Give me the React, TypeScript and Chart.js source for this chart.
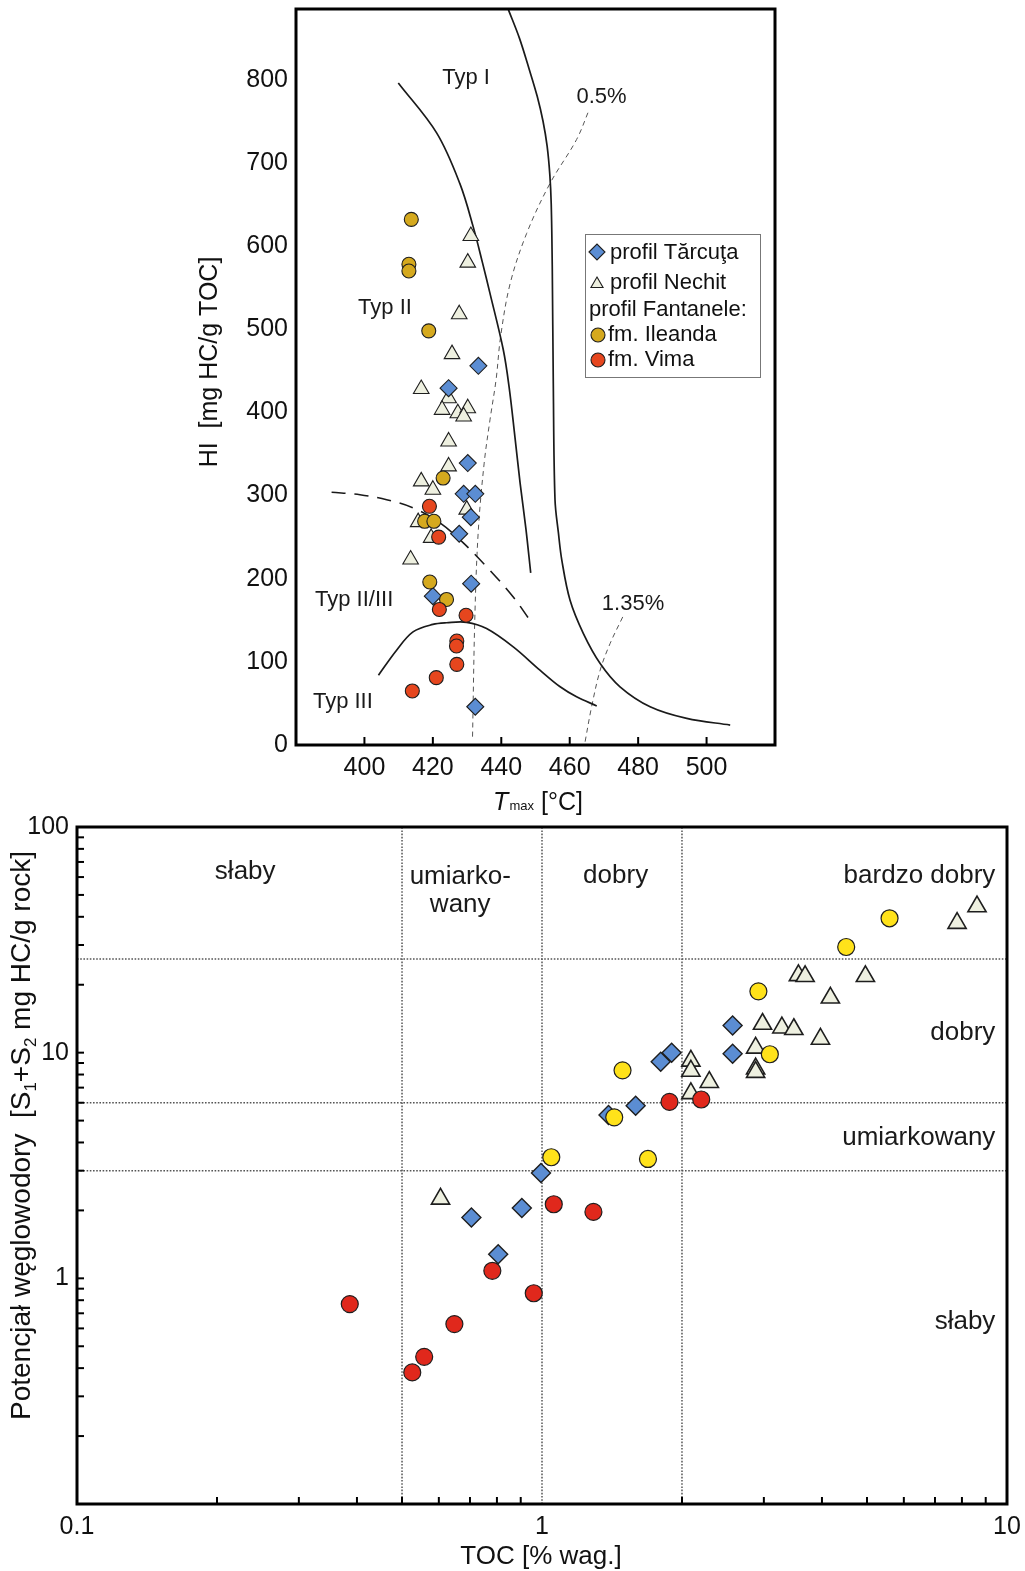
import React, { useEffect, useRef } from 'react';
import { Chart, registerables } from 'chart.js';

Chart.register(...registerables);

const FONT = '"Liberation Sans", Arial, Helvetica, sans-serif';

// ================= TOP PANEL: HI vs Tmax =================
const TOP_X_TICKS = [400, 420, 440, 460, 480, 500];
const TOP_Y_TICKS = [0, 100, 200, 300, 400, 500, 600, 700, 800];

const TARCUTA_TMAX = [433.3, 424.6, 430.2, 429.0, 432.4, 431.1, 427.7, 431.2, 420.0, 432.4];
const TARCUTA_HI = [456, 429, 339, 302, 302, 274, 254, 194, 179, 46];

const NECHIT_TMAX = [431.1, 430.2, 427.7, 425.6, 416.6, 424.6, 422.7, 427.3, 430.2, 429.0, 424.6, 424.6, 416.6, 420.0, 429.9, 415.7, 419.5, 413.5];
const NECHIT_HI = [612, 580, 518, 470, 428, 417, 403, 399, 405, 395, 365, 335, 317, 307, 283, 268, 249, 223];

const ILEANDA_TMAX = [413.7, 413.0, 413.0, 418.8, 423.0, 417.6, 420.3, 419.1, 424.0];
const ILEANDA_HI = [632, 578, 570, 498, 321, 269, 269, 196, 175];

const VIMA_TMAX = [419.0, 421.7, 421.9, 429.7, 427.0, 426.9, 427.0, 421.0, 414.0];
const VIMA_HI = [287, 250, 163, 156, 125, 119, 97, 81, 65];

// kerogen type boundary curves [Tmax, HI]
const CURVE_TYPE_I_II = [[409.9, 796], [421.1, 736], [427.9, 675], [431.8, 623], [434.5, 580], [436.7, 543], [440.6, 475], [442.3, 430], [444, 370], [445.5, 315], [447.2, 260], [448.6, 207]];
const CURVE_TYPE_I = [[442.1, 884], [445.3, 850], [448.2, 812], [450.5, 780], [452.2, 750], [453.4, 720], [454.2, 685], [454.6, 650], [454.9, 575], [455.2, 435], [455.7, 295], [456.7, 255], [457.7, 222], [460.1, 174], [464, 134], [468.9, 98], [474.7, 70], [483.5, 46], [494.2, 32], [506.9, 24]];
const CURVE_TYPE_III = [[404.1, 84], [409.4, 114], [414.2, 136], [420, 145], [424, 147], [429.9, 147.5], [435.7, 140], [443.5, 118], [451.3, 90], [457.2, 70], [462, 58], [467.9, 47]];
const CURVE_TYPE_II_III = [[390.4, 304], [398.7, 301], [406.5, 295], [414.3, 285], [422.1, 267], [428.9, 243], [436.7, 210], [443.5, 178], [448.2, 151]];
const CURVE_RO_05 = [[431.6, 10], [432.3, 158], [433.3, 259], [435, 339], [436.7, 391], [438.5, 440], [439.8, 491], [442.6, 555], [447.4, 615], [454.2, 675], [462, 728], [465.7, 764]];
const CURVE_RO_135 = [[464.5, 4], [466.4, 46], [468.9, 90], [471.8, 122], [475.5, 154]];

// ================= BOTTOM PANEL: S1+S2 vs TOC =================
const BOT_X_LABELS = [0.1, 1, 10];
const BOT_Y_LABELS = [1, 10, 100];
const BOT_X_MINOR = [0.2, 0.3, 0.4, 0.5, 0.6, 0.7, 0.8, 0.9, 2, 3, 4, 5, 6, 7, 8, 9];
const BOT_Y_MINOR = [0.2, 0.3, 0.4, 0.5, 0.6, 0.7, 0.8, 0.9, 1, 2, 3, 4, 5, 6, 7, 8, 9, 10, 20, 30, 40, 50, 60, 70, 80, 90];
const TOC_CLASS_LIMITS = [0.5, 1, 2];
const S12_CLASS_LIMITS = [3, 6, 26];

const B_TARCUTA_TOC = [2.57, 2.57, 1.9, 1.8, 1.59, 1.39, 0.995, 0.905, 0.705, 0.805];
const B_TARCUTA_S = [13.2, 9.9, 10.0, 9.12, 5.82, 5.29, 2.93, 2.05, 1.86, 1.28];

const B_NECHIT_TOC = [8.62, 7.81, 3.56, 3.68, 4.96, 4.17, 2.98, 3.28, 3.48, 3.97, 2.88, 2.88, 2.88, 2.09, 2.09, 2.29, 2.09, 0.605];
const B_NECHIT_S = [44.4, 37.5, 22.0, 21.8, 21.8, 17.5, 13.4, 12.9, 12.7, 11.5, 10.5, 8.5, 8.2, 9.2, 8.3, 7.4, 6.6, 2.25];

const B_ILEANDA_TOC = [5.59, 4.51, 2.92, 3.09, 1.49, 1.43, 1.047, 1.69];
const B_ILEANDA_S = [39.4, 29.4, 18.7, 9.84, 8.35, 5.17, 3.44, 3.38];

const B_VIMA_TOC = [1.88, 2.2, 1.06, 1.29, 0.782, 0.96, 0.386, 0.648, 0.558, 0.526];
const B_VIMA_S = [6.05, 6.2, 2.13, 1.97, 1.08, 0.859, 0.769, 0.627, 0.449, 0.383];

// colours
const BLUE = '#5B8DD3';
const PALE = '#EEF0E0';
const GOLD = '#D5A91E';
const TOP_RED = '#E6461E';
const YELLOW = '#FFE21A';
const RED = '#E0281C';
const EDGE = '#1e1e1e';

const pts = (xs: number[], ys: number[]) => xs.map((x, i) => ({ x, y: ys[i] }));
const curve = (pairs: number[][]) => pairs.map(([x, y]) => ({ x, y }));

type Seg = { t: string; sub?: boolean; italic?: boolean; size?: number };
function drawRich(ctx: CanvasRenderingContext2D, segs: Seg[], size: number, x: number, y: number, align: 'left' | 'center') {
  const fontFor = (s: Seg) => `${s.italic ? 'italic ' : ''}${s.size ?? (s.sub ? Math.round(size * 0.6) : size)}px ${FONT}`;
  let total = 0;
  const widths = segs.map((s) => {
    ctx.font = fontFor(s);
    const w = ctx.measureText(s.t).width;
    total += w;
    return w;
  });
  let cx = align === 'center' ? x - total / 2 : x;
  ctx.textAlign = 'left';
  ctx.textBaseline = 'alphabetic';
  segs.forEach((s, i) => {
    ctx.font = fontFor(s);
    ctx.fillText(s.t, cx, y + (s.sub ? size * 0.22 : 0));
    cx += widths[i];
  });
}

function marker(ctx: CanvasRenderingContext2D, style: string, x: number, y: number, r: number, fill: string) {
  ctx.beginPath();
  if (style === 'circle') ctx.arc(x, y, r, 0, Math.PI * 2);
  else if (style === 'diamond') {
    ctx.moveTo(x - r, y); ctx.lineTo(x, y - r); ctx.lineTo(x + r, y); ctx.lineTo(x, y + r); ctx.closePath();
  } else {
    ctx.moveTo(x, y - r); ctx.lineTo(x + r * 0.866, y + r * 0.5); ctx.lineTo(x - r * 0.866, y + r * 0.5); ctx.closePath();
  }
  ctx.fillStyle = fill;
  ctx.fill();
  ctx.lineWidth = 1.1;
  ctx.strokeStyle = EDGE;
  ctx.stroke();
}

const TOP_REGION_LABELS = [
  { text: 'Typ I', t: 429.7, hi: 802 },
  { text: '0.5%', t: 469.3, hi: 779 },
  { text: 'Typ II', t: 406, hi: 525 },
  { text: 'Typ II/III', t: 397, hi: 174 },
  { text: 'Typ III', t: 393.7, hi: 52 },
  { text: '1.35%', t: 478.5, hi: 170 },
];

const topDecor = {
  id: 'topDecor',
  afterDatasetsDraw(chart: any) {
    const { ctx, chartArea: a, scales } = chart;
    const x = scales.x, y = scales.y;
    ctx.save();
    ctx.strokeStyle = '#000';
    ctx.lineWidth = 2;
    TOP_X_TICKS.forEach((v) => {
      const px = x.getPixelForValue(v);
      ctx.beginPath(); ctx.moveTo(px, a.bottom); ctx.lineTo(px, a.bottom - 8); ctx.stroke();
    });
    ctx.lineWidth = 3;
    ctx.strokeRect(a.left, a.top, a.right - a.left, a.bottom - a.top);

    ctx.fillStyle = '#1a1a1a';
    ctx.font = `22px ${FONT}`;
    ctx.textAlign = 'center';
    ctx.textBaseline = 'middle';
    TOP_REGION_LABELS.forEach((l) => ctx.fillText(l.text, x.getPixelForValue(l.t), y.getPixelForValue(l.hi)));

    // legend
    ctx.lineWidth = 1;
    ctx.strokeStyle = '#777';
    ctx.fillStyle = '#fff';
    ctx.fillRect(585, 234, 175, 143);
    ctx.strokeRect(585.5, 234.5, 175, 143);
    marker(ctx, 'diamond', 597, 252, 8, BLUE);
    marker(ctx, 'triangle', 597, 284, 7, PALE);
    marker(ctx, 'circle', 598, 335, 7, GOLD);
    marker(ctx, 'circle', 598, 360, 7, TOP_RED);
    ctx.fillStyle = '#111';
    ctx.font = `22px ${FONT}`;
    ctx.textAlign = 'left';
    ctx.textBaseline = 'middle';
    ctx.fillText('profil Tărcuţa', 610, 253);
    ctx.fillText('profil Nechit', 610, 283);
    ctx.fillText('profil Fantanele:', 589, 310);
    ctx.fillText('fm. Ileanda', 608, 335);
    ctx.fillText('fm. Vima', 608, 360);

    // axis titles
    ctx.fillStyle = '#111';
    ctx.save();
    ctx.translate(217, 362);
    ctx.rotate(-Math.PI / 2);
    drawRich(ctx, [{ t: 'HI  [mg HC/g TOC]' }], 25, 0, 0, 'center');
    ctx.restore();
    drawRich(ctx, [{ t: 'T', italic: true }, { t: ' ', size: 4 }, { t: 'max', size: 13 }, { t: ' [°C]' }], 25, 538, 810, 'center');
    ctx.restore();
  },
};

const BOT_ZONE_LABELS = [
  { text: 'słaby', x: 0.23, y: 63, align: 'center' },
  { text: 'umiarko-', x: 0.667, y: 60, align: 'center' },
  { text: 'wany', x: 0.667, y: 45, align: 'center' },
  { text: 'dobry', x: 1.44, y: 61, align: 'center' },
  { text: 'bardzo dobry', x: 9.44, y: 61, align: 'right' },
  { text: 'dobry', x: 9.44, y: 12.2, align: 'right' },
  { text: 'umiarkowany', x: 9.44, y: 4.19, align: 'right' },
  { text: 'słaby', x: 9.44, y: 0.64, align: 'right' },
];

const botDecor = {
  id: 'botDecor',
  afterDatasetsDraw(chart: any) {
    const { ctx, chartArea: a, scales } = chart;
    const x = scales.x, y = scales.y;
    ctx.save();
    ctx.strokeStyle = '#000';
    ctx.lineWidth = 2;
    BOT_X_MINOR.forEach((v) => {
      const px = x.getPixelForValue(v);
      ctx.beginPath(); ctx.moveTo(px, a.bottom); ctx.lineTo(px, a.bottom - 7); ctx.stroke();
    });
    BOT_Y_MINOR.forEach((v) => {
      const py = y.getPixelForValue(v);
      ctx.beginPath(); ctx.moveTo(a.left, py); ctx.lineTo(a.left + 7, py); ctx.stroke();
    });
    ctx.lineWidth = 3;
    ctx.strokeRect(a.left, a.top, a.right - a.left, a.bottom - a.top);

    ctx.fillStyle = '#1a1a1a';
    ctx.font = `26px ${FONT}`;
    ctx.textBaseline = 'middle';
    BOT_ZONE_LABELS.forEach((l) => {
      ctx.textAlign = l.align as CanvasTextAlign;
      ctx.fillText(l.text, x.getPixelForValue(l.x), y.getPixelForValue(l.y));
    });

    ctx.fillStyle = '#111';
    drawRich(ctx, [{ t: 'TOC [% wag.]' }], 26, 541, 774, 'center');
    ctx.save();
    ctx.translate(30, 630);
    ctx.rotate(-Math.PI / 2);
    drawRich(ctx, [{ t: 'Potencjał węglowodory  [S' }, { t: '1', sub: true }, { t: '+S' }, { t: '2', sub: true }, { t: ' mg HC/g rock]' }], 28, 0, 0, 'left');
    ctx.restore();
    ctx.restore();
  },
};

const tickFont = (size: number) => ({ family: FONT, size });
const zeroPad = (s: any) => { s.paddingTop = 0; s.paddingBottom = 0; s.paddingLeft = 0; s.paddingRight = 0; };

function topConfig(): any {
  const solid = { showLine: true, pointRadius: 0, borderColor: '#1a1a1a', borderWidth: 1.7, tension: 0.35, order: 10, fill: false };
  const thinDash = { showLine: true, pointRadius: 0, borderColor: '#555', borderWidth: 1, borderDash: [5, 4], tension: 0.35, order: 11, fill: false };
  return {
    type: 'scatter',
    data: {
      datasets: [
        { label: 'fm. Vima', data: pts(VIMA_TMAX, VIMA_HI), pointStyle: 'circle', pointRadius: 7, backgroundColor: TOP_RED, borderColor: EDGE, borderWidth: 1.1, order: 0 },
        { label: 'fm. Ileanda', data: pts(ILEANDA_TMAX, ILEANDA_HI), pointStyle: 'circle', pointRadius: 7, backgroundColor: GOLD, borderColor: EDGE, borderWidth: 1.1, order: 1 },
        { label: 'profil Tărcuţa', data: pts(TARCUTA_TMAX, TARCUTA_HI), pointStyle: 'rectRot', pointRadius: 8.5, backgroundColor: BLUE, borderColor: EDGE, borderWidth: 1.1, order: 2 },
        { label: 'profil Nechit', data: pts(NECHIT_TMAX, NECHIT_HI), pointStyle: 'triangle', pointRadius: 9, backgroundColor: PALE, borderColor: EDGE, borderWidth: 1.1, order: 3 },
        { label: 'Typ I/II', data: curve(CURVE_TYPE_I_II), ...solid },
        { label: 'Typ I', data: curve(CURVE_TYPE_I), ...solid },
        { label: 'Typ III', data: curve(CURVE_TYPE_III), ...solid },
        { label: 'Typ II/III', data: curve(CURVE_TYPE_II_III), ...solid, borderDash: [14, 9], borderWidth: 1.6 },
        { label: 'Ro 0.5%', data: curve(CURVE_RO_05), ...thinDash },
        { label: 'Ro 1.35%', data: curve(CURVE_RO_135), ...thinDash },
      ],
    },
    options: {
      responsive: false,
      animation: false,
      events: [],
      layout: { autoPadding: false, padding: { left: 236, right: 250, top: 9, bottom: 5 } },
      plugins: { legend: { display: false }, tooltip: { enabled: false } },
      scales: {
        x: {
          type: 'linear', min: 380, max: 520,
          grid: { display: false, drawTicks: false }, border: { display: false },
          afterBuildTicks: (s: any) => { s.ticks = TOP_X_TICKS.map((v) => ({ value: v })); },
          afterFit: (s: any) => { s.height = 70; zeroPad(s); },
          ticks: { font: tickFont(25), color: '#111', padding: 8, maxRotation: 0, autoSkip: false },
        },
        y: {
          type: 'linear', min: 0, max: 885,
          grid: { display: false, drawTicks: false }, border: { display: false },
          afterBuildTicks: (s: any) => { s.ticks = TOP_Y_TICKS.map((v) => ({ value: v })); },
          afterFit: (s: any) => { s.width = 60; zeroPad(s); },
          ticks: { font: tickFont(25), color: '#111', padding: 8, autoSkip: false },
        },
      },
    },
    plugins: [topDecor],
  };
}

function botConfig(): any {
  const ref = { showLine: true, pointRadius: 0, borderColor: '#555', borderWidth: 1.5, borderDash: [1.6, 1.6], order: 10, fill: false, tension: 0 };
  const vLines = TOC_CLASS_LIMITS.map((v) => ({ label: `TOC ${v}`, data: [{ x: v, y: 0.1 }, { x: v, y: 100 }], ...ref }));
  const hLines = S12_CLASS_LIMITS.map((v) => ({ label: `S ${v}`, data: [{ x: 0.1, y: v }, { x: 10, y: v }], ...ref }));
  return {
    type: 'scatter',
    data: {
      datasets: [
        { label: 'fm. Vima', data: pts(B_VIMA_TOC, B_VIMA_S), pointStyle: 'circle', pointRadius: 8.5, backgroundColor: RED, borderColor: EDGE, borderWidth: 1.2, order: 0 },
        { label: 'fm. Ileanda', data: pts(B_ILEANDA_TOC, B_ILEANDA_S), pointStyle: 'circle', pointRadius: 8.5, backgroundColor: YELLOW, borderColor: EDGE, borderWidth: 1.2, order: 1 },
        { label: 'profil Tărcuţa', data: pts(B_TARCUTA_TOC, B_TARCUTA_S), pointStyle: 'rectRot', pointRadius: 9.5, backgroundColor: BLUE, borderColor: EDGE, borderWidth: 1.4, order: 2 },
        { label: 'profil Nechit', data: pts(B_NECHIT_TOC, B_NECHIT_S), pointStyle: 'triangle', pointRadius: 10.5, backgroundColor: PALE, borderColor: EDGE, borderWidth: 1.6, order: 3 },
        ...vLines,
        ...hLines,
      ],
    },
    options: {
      responsive: false,
      animation: false,
      events: [],
      layout: { autoPadding: false, padding: { left: 17, right: 18, top: 37, bottom: 7 } },
      plugins: { legend: { display: false }, tooltip: { enabled: false } },
      scales: {
        x: {
          type: 'logarithmic', min: 0.1, max: 10,
          grid: { display: false, drawTicks: false }, border: { display: false },
          afterBuildTicks: (s: any) => { s.ticks = BOT_X_LABELS.map((v) => ({ value: v })); },
          afterFit: (s: any) => { s.height = 60; zeroPad(s); },
          ticks: { font: tickFont(25), color: '#111', padding: 8, maxRotation: 0, autoSkip: false, callback: (v: any) => String(v) },
        },
        y: {
          type: 'logarithmic', min: 0.1, max: 100,
          grid: { display: false, drawTicks: false }, border: { display: false },
          afterBuildTicks: (s: any) => { s.ticks = BOT_Y_LABELS.map((v) => ({ value: v })); },
          afterFit: (s: any) => { s.width = 60; zeroPad(s); },
          ticks: { font: tickFont(25), color: '#111', padding: 8, autoSkip: false, callback: (v: any) => String(v) },
        },
      },
    },
    plugins: [botDecor],
  };
}

export default function App() {
  const topRef = useRef<HTMLCanvasElement>(null);
  const botRef = useRef<HTMLCanvasElement>(null);
  useEffect(() => {
    const c1 = new Chart(topRef.current as HTMLCanvasElement, topConfig());
    const c2 = new Chart(botRef.current as HTMLCanvasElement, botConfig());
    return () => {
      c1.destroy();
      c2.destroy();
    };
  }, []);
  return (
    <div style={{ position: 'absolute', left: 0, top: 0, width: 1025, height: 1571, background: '#fff', overflow: 'hidden' }}>
      <canvas ref={topRef} width={1025} height={820} style={{ position: 'absolute', left: 0, top: 0, width: 1025, height: 820 }} />
      <canvas ref={botRef} width={1025} height={781} style={{ position: 'absolute', left: 0, top: 790, width: 1025, height: 781 }} />
    </div>
  );
}
